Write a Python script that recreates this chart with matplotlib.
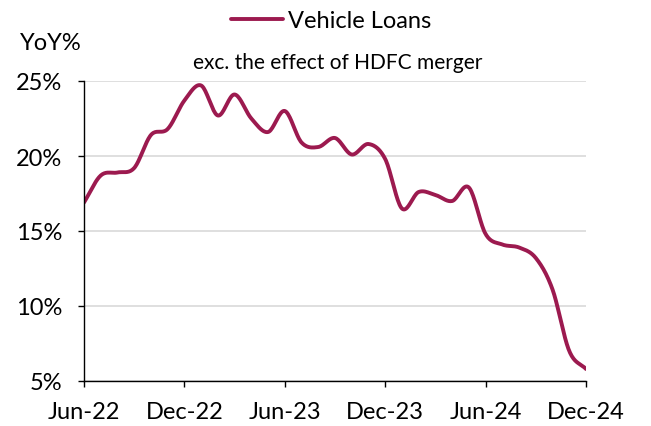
"""Vehicle loans YoY growth, monthly, smoothed line."""

import numpy as np
import matplotlib
matplotlib.use("Agg")
import matplotlib.pyplot as plt

# monthly values, Jun-22 .. Dec-24
months = np.arange(31)
vehicle_loans = [16.9, 18.7, 18.9, 19.2, 21.4, 21.8, 23.7, 24.7, 22.7, 24.1,
                 22.5, 21.6, 23.0, 20.9, 20.6, 21.2, 20.1, 20.8, 19.8, 16.5,
                 17.6, 17.4, 17.0, 17.9, 14.8, 14.1, 13.9, 13.2, 11.1, 7.0, 5.8]
tick_pos = [0, 6, 12, 18, 24, 30]
tick_labels = ["Jun-22", "Dec-22", "Jun-23", "Dec-23", "Jun-24", "Dec-24"]
y_ticks = [5, 10, 15, 20, 25]

COLOR = "#9c1a4f"
plt.rcParams["font.family"] = ["Lato", "DejaVu Sans"]


def smooth(x, y, n=20):
    # catmull-rom style smoothing, like excel's smoothed line
    x = np.asarray(x, float)
    y = np.asarray(y, float)
    px = np.concatenate([[2 * x[0] - x[1]], x, [2 * x[-1] - x[-2]]])
    py = np.concatenate([[2 * y[0] - y[1]], y, [2 * y[-1] - y[-2]]])
    xs, ys = [], []
    t = np.linspace(0, 1, n, endpoint=False)
    for i in range(1, len(px) - 2):
        for p, out in ((px, xs), (py, ys)):
            p0, p1, p2, p3 = p[i - 1], p[i], p[i + 1], p[i + 2]
            out.append(0.5 * ((2 * p1) + (-p0 + p2) * t
                              + (2 * p0 - 5 * p1 + 4 * p2 - p3) * t ** 2
                              + (-p0 + 3 * p1 - 3 * p2 + p3) * t ** 3))
    xs.append([x[-1]])
    ys.append([y[-1]])
    return np.concatenate(xs), np.concatenate(ys)


fig = plt.figure(figsize=(6.51, 4.27), dpi=100)
ax = fig.add_axes([84 / 651, 1 - 382 / 427, (586 - 84) / 651, 300 / 427])

sx, sy = smooth(months, vehicle_loans)
line, = ax.plot(sx, sy, color=COLOR, lw=2.8, solid_capstyle="round")

ax.set_xlim(0, 30)
ax.set_ylim(5, 25)
ax.set_yticks(y_ticks)
ax.set_yticklabels([f"{v}%" for v in y_ticks])
ax.set_xticks(tick_pos)
ax.set_xticklabels(tick_labels)
ax.grid(axis="y", color="#d9d9d9", lw=1.2)
ax.set_axisbelow(True)
for s in ["top", "right"]:
    ax.spines[s].set_visible(False)
for s in ["left", "bottom"]:
    ax.spines[s].set_color("black")
    ax.spines[s].set_linewidth(1.0)
ax.tick_params(axis="both", labelsize=17, length=4.5, width=1.0, color="black")
ax.tick_params(axis="x", pad=10)
ax.tick_params(axis="y", pad=11)

fig.text(20 / 651, 1 - 44 / 427, "YoY%", fontsize=17, va="center", ha="left")
fig.text(338 / 651, 1 - 63 / 427, "exc. the effect of HDFC merger",
         fontsize=15, va="center", ha="center")
fig.legend([line], ["Vehicle Loans"], loc="center", bbox_to_anchor=(331 / 651, 1 - 22 / 427),
           frameon=False, fontsize=17, handlelength=2.2, handletextpad=0.2)

plt.savefig("out.png", dpi=100)
